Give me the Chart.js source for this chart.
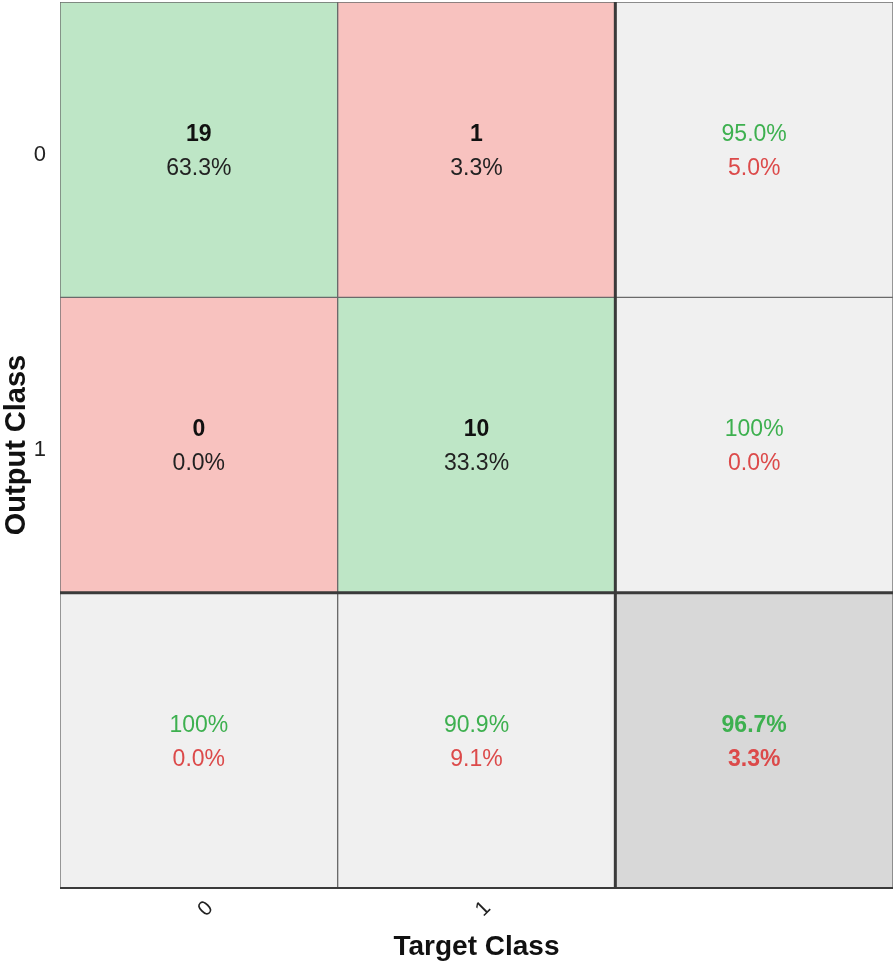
<!DOCTYPE html>
<html>
<head>
<meta charset="utf-8">
<script src="https://cdn.jsdelivr.net/npm/chart.js@4.4.1/dist/chart.umd.min.js"></script>
<style>
  body { margin: 0; background: #fff; }
  #wrap { width: 896px; height: 965px; }
</style>
</head>
<body>
<div id="wrap"><canvas id="cm"></canvas></div>
<script>
// confusion matrix data
const targetLabels = ['0', '1', ''];
const outputLabels = ['0', '1'];
const counts = [[19, 1], [0, 10]];
const cellPct = [['63.3%', '3.3%'], ['0.0%', '33.3%']];
const rowGood = ['95.0%', '100%'];
const rowBad = ['5.0%', '0.0%'];
const colGood = ['100%', '90.9%'];
const colBad = ['0.0%', '9.1%'];
const totalGood = '96.7%';
const totalBad = '3.3%';

const GREEN = '#bee6c6';
const RED = '#f8c2bf';
const GREY = '#f0f0f0';
const DARK = '#d8d8d8';
const TXT_GREEN = '#3db04f';
const TXT_RED = '#dc4a4a';
const FONT = '"Liberation Sans", Arial, sans-serif';

function rowColors(r) {
  if (r === 2) return [GREY, GREY, DARK];
  return [0, 1, 2].map(c => c === 2 ? GREY : (c === r ? GREEN : RED));
}

const datasets = [0, 1, 2].map(r => ({
  data: [0, 1, 2].map(() => [r, r + 1]),
  backgroundColor: rowColors(r),
  borderColor: '#6a6a6a',
  borderWidth: 1,
  borderSkipped: false,
  grouped: false,
  barPercentage: 1,
  categoryPercentage: 1
}));

const cellText = {
  id: 'cellText',
  afterDatasetsDraw(chart) {
    const { ctx, scales: { x, y }, chartArea } = chart;
    ctx.save();
    // thick separators
    ctx.strokeStyle = '#3a3a3a';
    ctx.lineWidth = 3;
    const xs = x.getPixelForValue(1.5);
    const ys = y.getPixelForValue(2);
    ctx.beginPath();
    ctx.moveTo(xs, chartArea.top); ctx.lineTo(xs, chartArea.bottom);
    ctx.moveTo(chartArea.left, ys); ctx.lineTo(chartArea.right, ys);
    ctx.stroke();
    ctx.lineWidth = 2;
    ctx.beginPath();
    ctx.moveTo(chartArea.left, chartArea.bottom); ctx.lineTo(chartArea.right, chartArea.bottom);
    ctx.stroke();

    ctx.textAlign = 'center';
    ctx.textBaseline = 'middle';
    const put = (c, r, top, bottom, c1, c2, bold1, bold2) => {
      const cx = x.getPixelForValue(c);
      const cy = y.getPixelForValue(r + 0.5);
      ctx.fillStyle = c1;
      ctx.font = (bold1 ? 'bold ' : '') + '23px ' + FONT;
      ctx.fillText(top, cx, cy - 15);
      ctx.fillStyle = c2;
      ctx.font = (bold2 ? 'bold ' : '') + '23px ' + FONT;
      ctx.fillText(bottom, cx, cy + 19);
    };
    for (let r = 0; r < 2; r++) {
      for (let c = 0; c < 2; c++) {
        put(c, r, String(counts[r][c]), cellPct[r][c], '#111', '#222', true, false);
      }
      put(2, r, rowGood[r], rowBad[r], TXT_GREEN, TXT_RED, false, false);
    }
    for (let c = 0; c < 2; c++) put(c, 2, colGood[c], colBad[c], TXT_GREEN, TXT_RED, false, false);
    put(2, 2, totalGood, totalBad, TXT_GREEN, TXT_RED, true, true);
    ctx.restore();
  }
};

new Chart(document.getElementById('cm'), {
  type: 'bar',
  data: { labels: targetLabels, datasets },
  options: {
    responsive: true,
    maintainAspectRatio: false,
    animation: false,
    layout: { padding: { top: 2, right: 3, left: 0, bottom: 1 } },
    plugins: { legend: { display: false }, tooltip: { enabled: false } },
    scales: {
      x: {
        grid: { display: false },
        border: { display: false },
        ticks: {
          color: '#222', font: { family: FONT, size: 21 },
          minRotation: 45, maxRotation: 45, padding: 0, labelOffset: 11
        },
        title: {
          display: true, text: 'Target Class', color: '#111',
          font: { family: FONT, size: 28, weight: 'bold' }, padding: { top: 0, bottom: 0 }
        },
        afterFit(s) { s.height = 76; s.paddingLeft = 0; s.paddingRight = 0; }
      },
      y: {
        min: 0, max: 3, reverse: true,
        grid: { display: false, drawTicks: false },
        border: { display: false },
        afterBuildTicks(s) { s.ticks = [{ value: 0.5 }, { value: 1.5 }]; },
        ticks: {
          color: '#222', font: { family: FONT, size: 22 }, padding: 14, labelOffset: 5,
          callback: (v, i) => outputLabels[i]
        },
        title: {
          display: true, text: 'Output Class', color: '#111',
          font: { family: FONT, size: 29, weight: 'bold' }, padding: { top: 0, bottom: 0 }
        },
        afterFit(s) { s.width = 60; s.paddingTop = 0; s.paddingBottom = 0; }
      }
    }
  },
  plugins: [cellText]
});
</script>
</body>
</html>
